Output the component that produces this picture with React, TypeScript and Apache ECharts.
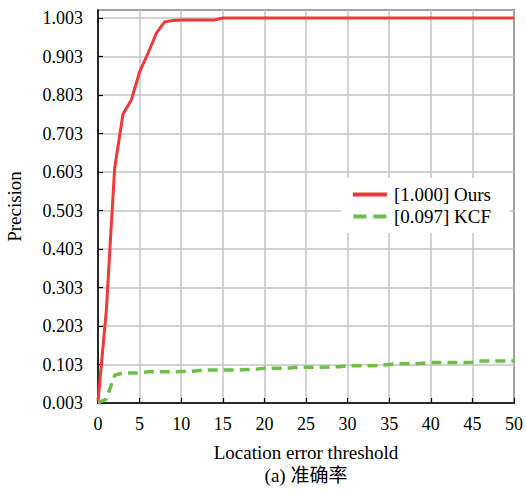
import React, { useEffect, useRef } from "react";
import * as echarts from "echarts";

const xValues = [
  0, 1, 2, 3, 4, 5, 6, 7, 8, 9, 10, 11, 12, 13, 14, 15, 16, 17, 18, 19, 20,
  21, 22, 23, 24, 25, 26, 27, 28, 29, 30, 31, 32, 33, 34, 35, 36, 37, 38, 39,
  40, 41, 42, 43, 44, 45, 46, 47, 48, 49, 50,
];

const oursValues = [
  0.005, 0.24, 0.61, 0.75, 0.787, 0.86, 0.908, 0.96, 0.99, 0.994, 0.995, 0.995,
  0.995, 0.995, 0.995, 1.0, 1.0, 1.0, 1.0, 1.0, 1.0, 1.0, 1.0, 1.0, 1.0, 1.0,
  1.0, 1.0, 1.0, 1.0, 1.0, 1.0, 1.0, 1.0, 1.0, 1.0, 1.0, 1.0, 1.0, 1.0, 1.0,
  1.0, 1.0, 1.0, 1.0, 1.0, 1.0, 1.0, 1.0, 1.0, 1.0,
];

const kcfValues = [
  0.0, 0.01, 0.072, 0.078, 0.078, 0.078, 0.081, 0.081, 0.081, 0.081, 0.082,
  0.082, 0.084, 0.086, 0.086, 0.086, 0.086, 0.086, 0.087, 0.088, 0.09, 0.09,
  0.09, 0.091, 0.093, 0.093, 0.093, 0.093, 0.094, 0.094, 0.097, 0.097, 0.097,
  0.097, 0.098, 0.1, 0.102, 0.102, 0.102, 0.103, 0.105, 0.105, 0.105, 0.105,
  0.105, 0.106, 0.109, 0.109, 0.109, 0.109, 0.109,
];

const seriesNames = ["[1.000] Ours", "[0.097] KCF"];
const yTickLabels = [
  "0.003", "0.103", "0.203", "0.303", "0.403", "0.503", "0.603", "0.703",
  "0.803", "0.903", "1.003",
];
const xTickLabels = ["0", "5", "10", "15", "20", "25", "30", "35", "40", "45", "50"];
const xAxisTitle = "Location error threshold";
const yAxisTitle = "Precision";
const caption = "(a) 准确率";

const serif = "Liberation Serif";
const RED = "#ee3a3a";
const GREEN = "#6cbf4a";

export default function App() {
  const ref = useRef<HTMLDivElement>(null);
  useEffect(() => {
    if (!ref.current) return;
    const chart = echarts.init(ref.current, null, { renderer: "svg" });
    const oursData = xValues.map((x, i) => [x, oursValues[i]]);
    const kcfData = xValues.map((x, i) => [x, kcfValues[i]]);
    chart.setOption({
      animation: false,
      backgroundColor: "#ffffff",
      grid: {
        left: 98,
        right: 12,
        top: 10,
        bottom: 89,
        show: true,
        borderColor: "#000000",
        borderWidth: 1.5,
        backgroundColor: "transparent",
        containLabel: false,
        outerBoundsMode: "none",
      },
      xAxis: {
        type: "value",
        min: 0,
        max: 50,
        interval: 5,
        name: xAxisTitle,
        nameLocation: "middle",
        nameGap: 40,
        nameTextStyle: { fontFamily: serif, fontSize: 19, color: "#000" },
        axisLine: { show: true, lineStyle: { color: "#000", width: 1.5 } },
        axisTick: { show: true, inside: true, length: 5, lineStyle: { color: "#000", width: 1.2 } },
        axisLabel: {
          fontFamily: serif,
          fontSize: 18,
          color: "#000",
          margin: 12,
          formatter: (v: number) => xTickLabels[Math.round(v / 5)] ?? "",
        },
        splitLine: { show: true, lineStyle: { color: "#c4c4c4", width: 1.5 } },
      },
      yAxis: {
        type: "value",
        min: 0,
        max: 1.021,
        interval: 0.1,
        name: yAxisTitle,
        nameLocation: "middle",
        nameGap: 74,
        nameTextStyle: { fontFamily: serif, fontSize: 19, color: "#000" },
        axisLine: { show: true, lineStyle: { color: "#000", width: 1.5 } },
        axisTick: { show: true, inside: true, length: 5, lineStyle: { color: "#000", width: 1.2 } },
        axisLabel: {
          fontFamily: serif,
          fontSize: 18,
          color: "#000",
          margin: 15,
          showMaxLabel: false,
          formatter: (v: number) => {
            const i = Math.round(v * 10);
            return Math.abs(v * 10 - i) < 1e-6 ? yTickLabels[i] ?? "" : "";
          },
        },
        splitLine: { show: true, lineStyle: { color: "#c4c4c4", width: 1.5 } },
      },
      legend: {
        data: [
          { name: seriesNames[0], icon: "path://M0,0h34v4h-34z", itemStyle: { color: RED } },
          {
            name: seriesNames[1],
            icon: "path://M0,0h13v4h-13z M20,0h13v4h-13z",
            itemStyle: { color: GREEN },
          },
        ],
        orient: "vertical",
        right: 17,
        top: 178,
        backgroundColor: "#ffffff",
        padding: [7, 18, 7, 12],
        itemGap: 3,
        itemWidth: 34,
        itemHeight: 4,
        textStyle: { fontFamily: serif, fontSize: 19, color: "#000", padding: [0, 0, 0, 2] },
      },
      graphic: [
        {
          type: "text",
          x: 306,
          y: 466,
          style: {
            text: caption,
            fontFamily: "Liberation Serif, Noto Sans CJK SC",
            fontSize: 19,
            fill: "#000",
            textAlign: "center",
          },
        },
      ],
      series: [
        {
          name: seriesNames[0],
          type: "line",
          data: oursData,
          symbol: "none",
          lineStyle: { color: RED, width: 3 },
          itemStyle: { color: RED },
          z: 3,
        },
        {
          name: seriesNames[1],
          type: "line",
          data: kcfData,
          symbol: "none",
          lineStyle: { color: GREEN, width: 3.5, type: [10, 6] },
          itemStyle: { color: GREEN },
          z: 2,
        },
      ],
    });
    return () => chart.dispose();
  }, []);
  return (
    <div
      ref={ref}
      style={{ position: "fixed", left: 0, top: 0, width: 526, height: 492 }}
    />
  );
}
